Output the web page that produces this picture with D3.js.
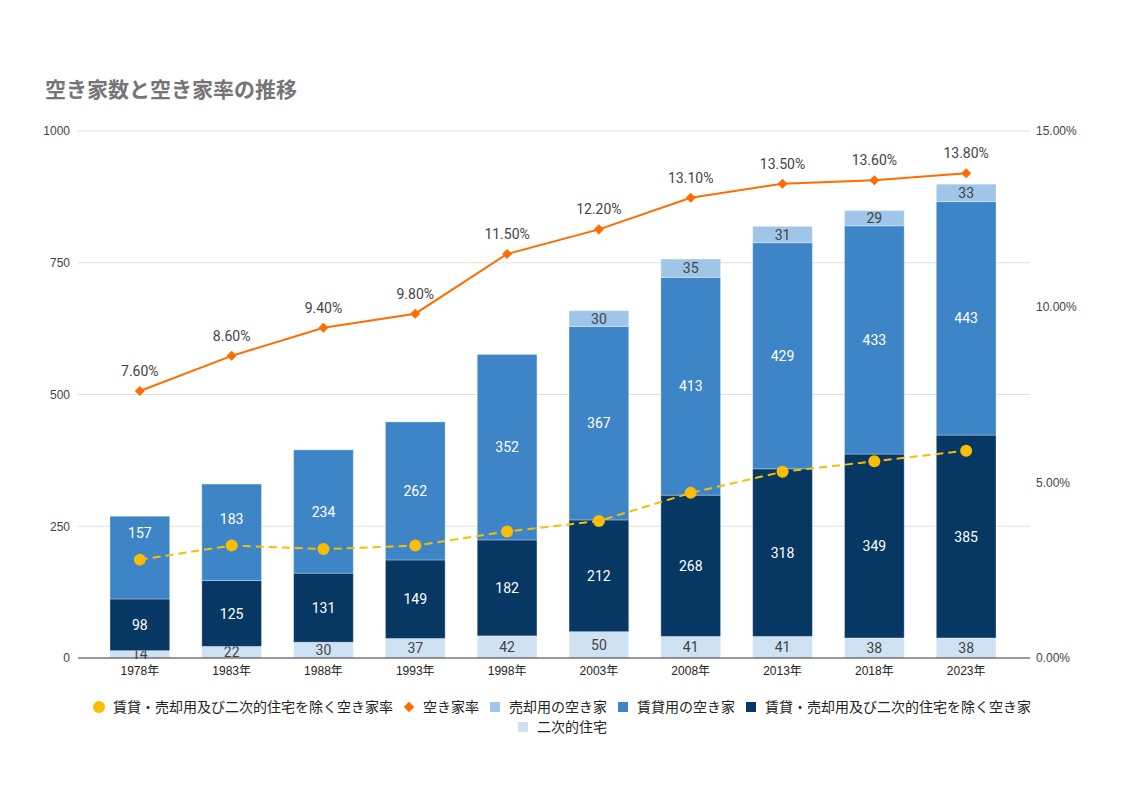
<!DOCTYPE html>
<html><head><meta charset="utf-8">
<script src="https://cdn.jsdelivr.net/npm/d3@7"></script>
<style>body{margin:0;background:#fff}svg{display:block;font-family:Roboto,"Noto Sans CJK JP",sans-serif}</style>
</head><body><svg id="c" width="1121" height="793"></svg>
<script>
const years = ["1978年","1983年","1988年","1993年","1998年","2003年","2008年","2013年","2018年","2023年"];
const secondary = [14,22,30,37,42,50,41,41,38,38];           // 二次的住宅
const otherVacant = [98,125,131,149,182,212,268,318,349,385]; // 賃貸・売却用及び二次的住宅を除く空き家
const rentalVacant = [157,183,234,262,352,367,413,429,433,443]; // 賃貸用の空き家
const saleVacant = [0,0,0,0,0,30,35,31,29,33];                // 売却用の空き家
const vacancyRate = [7.6,8.6,9.4,9.8,11.5,12.2,13.1,13.5,13.6,13.8]; // 空き家率
const otherRate = [2.8,3.2,3.1,3.2,3.6,3.9,4.7,5.3,5.6,5.9];    // 賃貸・売却用及び二次的住宅を除く空き家率
const leftTicks = [0,250,500,750,1000];
const rightTicks = [0,5,10,15];

const svg = d3.select("#c");
const plotTop = 131, plotBottom = 658, gx0 = 78, gx1 = 1030;
const axisFont = "'Liberation Sans',Arial,'Noto Sans CJK JP',sans-serif";
const x = d3.scaleBand().domain(years).range([110,996]).paddingInner(0.35).paddingOuter(0);
const y = d3.scaleLinear().domain([0,1000]).range([plotBottom,plotTop]);
const y2 = d3.scaleLinear().domain([0,15]).range([plotBottom,plotTop]);
const cx = (d,i)=>x(years[i])+x.bandwidth()/2;

svg.append("text").attr("x",45).attr("y",97).attr("font-size",21).attr("font-weight","bold")
  .attr("fill","#757575").attr("font-family","'Noto Sans CJK JP',sans-serif").text("空き家数と空き家率の推移");

// grid
svg.append("g").selectAll("line").data(leftTicks.slice(1)).join("line")
  .attr("x1",gx0).attr("x2",gx1).attr("y1",d=>y(d)).attr("y2",d=>y(d)).attr("stroke","#e0e0e0");
// left axis labels
const la = svg.append("g").attr("transform",`translate(${gx0},0)`)
  .call(d3.axisLeft(y).tickValues(leftTicks).tickSize(0).tickPadding(8).tickFormat(d3.format("d")));
la.select(".domain").remove();
la.selectAll("text").attr("font-size",12).attr("fill","#444").attr("font-family",axisFont);
// right axis labels
const ra = svg.append("g").attr("transform",`translate(${gx1},0)`)
  .call(d3.axisRight(y2).tickValues(rightTicks).tickSize(0).tickPadding(6).tickFormat(d=>d.toFixed(2)+"%"));
ra.select(".domain").remove();
ra.selectAll("text").attr("font-size",12).attr("fill","#444").attr("font-family",axisFont);

// stacked bars
const series = [
  {name:"二次的住宅", vals:secondary, color:"#cfe2f3", text:"#444"},
  {name:"賃貸・売却用及び二次的住宅を除く空き家", vals:otherVacant, color:"#073763", text:"#fff"},
  {name:"賃貸用の空き家", vals:rentalVacant, color:"#3d85c6", text:"#fff"},
  {name:"売却用の空き家", vals:saleVacant, color:"#9fc5e8", text:"#444"}
];
const stackData = years.map((yr,i)=>{const o={year:yr,i:i}; series.forEach(s=>o[s.name]=s.vals[i]); return o;});
const stacked = d3.stack().keys(series.map(s=>s.name))(stackData);
const bars = svg.append("g");
// label position, shifted up when it would collide with the rate marker
function labelY(d){
  let ly = (y(d[0])+y(d[1]))/2;
  const py = y2(otherRate[d.data.i]);
  if (Math.abs(ly - py) < 14) ly = py - 27;
  return ly;
}
stacked.forEach((layer,li)=>{
  const s = series[li];
  const segs = layer.filter(d=>d[1]-d[0]>0);
  bars.append("g").selectAll("rect").data(segs).join("rect")
    .attr("x",d=>x(d.data.year)).attr("width",x.bandwidth())
    .attr("y",d=>y(d[1])).attr("height",d=>y(d[0])-y(d[1]))
    .attr("fill",s.color).attr("stroke","rgba(255,255,255,0.3)").attr("stroke-width",1);
  bars.append("g").selectAll("text").data(segs).join("text")
    .attr("x",d=>x(d.data.year)+x.bandwidth()/2).attr("y",labelY)
    .attr("dy","0.36em").attr("text-anchor","middle").attr("font-size",14)
    .attr("fill",s.text).text(d=>d[1]-d[0]);
});

// baseline
svg.append("line").attr("x1",gx0).attr("x2",gx1).attr("y1",plotBottom).attr("y2",plotBottom).attr("stroke","#333");

// x labels
svg.append("g").selectAll("text").data(years).join("text")
  .attr("x",d=>x(d)+x.bandwidth()/2).attr("y",675).attr("text-anchor","middle")
  .attr("font-size",12).attr("fill","#222").attr("font-family",axisFont).text(d=>d);

// orange line
svg.append("path").datum(vacancyRate)
  .attr("d",d3.line().x(cx).y(d=>y2(d))).attr("fill","none").attr("stroke","#ff6d01").attr("stroke-width",2);
svg.append("g").selectAll("path").data(vacancyRate).join("path")
  .attr("transform",(d,i)=>`translate(${cx(d,i)},${y2(d)})`)
  .attr("d",d3.symbol(d3.symbolDiamond2,64)()).attr("fill","#ff6d01");
svg.append("g").selectAll("text").data(vacancyRate).join("text")
  .attr("x",cx).attr("y",d=>y2(d)-15).attr("text-anchor","middle")
  .attr("font-size",14).attr("fill","#444").text(d=>d.toFixed(2)+"%");

// yellow dashed line
svg.append("path").datum(otherRate)
  .attr("d",d3.line().x(cx).y(d=>y2(d))).attr("fill","none").attr("stroke","#fbbc04")
  .attr("stroke-width",2).attr("stroke-dasharray","8,5");
svg.append("g").selectAll("circle").data(otherRate).join("circle")
  .attr("cx",cx).attr("cy",d=>y2(d)).attr("r",6).attr("fill","#fbbc04");

// legend
const leg = [
  {t:"賃貸・売却用及び二次的住宅を除く空き家率", sym:"circle", c:"#fbbc04"},
  {t:"空き家率", sym:"diamond", c:"#ff6d01"},
  {t:"売却用の空き家", sym:"rect", c:"#9fc5e8"},
  {t:"賃貸用の空き家", sym:"rect", c:"#3d85c6"},
  {t:"賃貸・売却用及び二次的住宅を除く空き家", sym:"rect", c:"#073763"}
];
const leg2 = [{t:"二次的住宅", sym:"rect", c:"#cfe2f3"}];
function drawLegend(items, yy){
  const g = svg.append("g").attr("font-size",14).attr("font-family","'Noto Sans CJK JP',sans-serif");
  let xx = 0;
  items.forEach(it=>{
    const gi = g.append("g").attr("transform",`translate(${xx},${yy})`);
    if(it.sym==="circle") gi.append("circle").attr("cx",0).attr("cy",0).attr("r",6).attr("fill",it.c);
    else if(it.sym==="diamond") gi.append("path").attr("d",d3.symbol(d3.symbolDiamond2,70)()).attr("fill",it.c);
    else gi.append("rect").attr("x",-5).attr("y",-5).attr("width",10).attr("height",10).attr("fill",it.c);
    const t = gi.append("text").attr("x",14).attr("dy","0.35em").attr("fill","#222").text(it.t);
    xx += 14 + t.node().getComputedTextLength() + 16;
  });
  const total = xx - 16;
  g.attr("transform",`translate(${(88+1030)/2 - total/2 + 6},0)`);
}
drawLegend(leg, 707);
drawLegend(leg2, 727);
</script></body></html>
